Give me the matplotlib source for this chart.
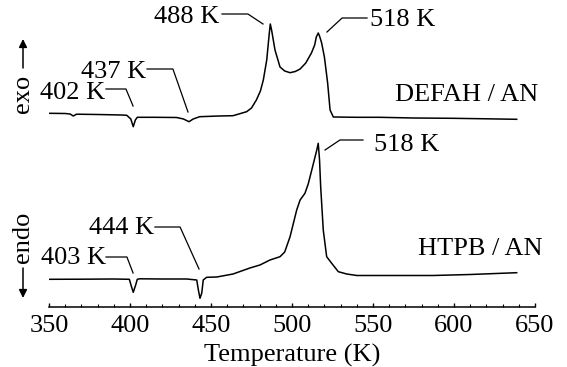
import matplotlib
matplotlib.use('Agg')
import matplotlib.pyplot as plt

# DSC traces (heat flow, arbitrary units, exo up)
T_defah = [350, 360, 363, 365, 367, 380, 395, 398, 400.5, 402, 403.3, 404.5,
           415, 428.8, 433, 436.4, 439, 443, 455, 463.6, 472, 475, 478, 480.5,
           482.3, 484.4, 486, 486.6, 487.4, 489.5, 492.6, 495.5, 498.8, 502,
           505, 508.5, 512, 514, 515, 516.2, 517, 518.3, 520, 522, 523.5,
           525.5, 540, 554, 575, 599, 620, 638.7]
py_defah = [113.3, 113.5, 114, 116, 114.2, 114.5, 115, 115.3, 119, 126.7, 120,
            117.3, 117.3, 117.5, 119, 121.7, 119, 116.7, 116, 115.7, 111.7, 108,
            100, 91, 80, 60, 33, 24, 30, 50, 67, 71, 72.7, 71.5, 69, 63, 53, 45,
            37, 33, 36, 43, 57, 83, 110, 117, 117.3, 117.3, 118, 118.3, 118.8,
            119.3]

T_htpb = [350, 370, 390, 399.6, 400.6, 402, 403.5, 404.5, 406, 420, 435, 441.2,
          442.2, 443.2, 444.3, 445.2, 447.3, 453.6, 463.6, 474, 480.2, 486.4,
          492.6, 495.5, 498.8, 502.9, 505, 508, 510, 512.2, 515.3, 516.2, 517,
          517.7, 519.3, 521.4, 524.5, 528.6, 533.8, 540, 560, 587, 610, 638.7]
py_htpb = [279.3, 279.2, 279, 279.3, 285, 292.3, 285, 279.3, 278.8, 279, 279,
           280, 290, 298.3, 293, 280, 277.3, 277, 274, 268, 265, 260, 256.7,
           252, 236.7, 210, 200, 193.3, 184, 170, 150, 143.3, 160, 186.7, 230,
           256.7, 263.3, 271.7, 274, 275.5, 275.5, 275.5, 274.5, 272.7]

# signal = height above the temperature axis
q_defah = [307 - v for v in py_defah]
q_htpb = [307 - v for v in py_htpb]

# peak labels: text, text anchor (T, q), alignment, leader polyline
peak_labels = ['488 K', '518 K', '437 K', '402 K', '518 K', '444 K', '403 K']
label_pos = [(455.3, 290), (548.3, 287), (410.3, 235), (385.0, 214),
             (550.8, 162), (415.2, 79), (385.0, 49)]
label_ha = ['right', 'left', 'right', 'right', 'left', 'right', 'right']
leaders = [
    ([456.8, 472.8, 482.1], [293, 293, 283]),
    ([546.3, 530.9, 521.6], [289, 289, 275]),
    ([410.5, 426.5, 435.8], [238, 238, 195]),
    ([385.2, 397.5, 401.9], [218, 218, 201]),
    ([543.8, 529.6, 520.4], [167, 167, 157]),
    ([415.4, 430.9, 442.6], [80, 80, 38]),
    ([385.2, 398.1, 401.9], [50, 50, 34]),
]

plt.rcParams['font.family'] = ['Liberation Serif', 'DejaVu Serif']
plt.rcParams['font.size'] = 19

fig = plt.figure(figsize=(5.67, 3.67), dpi=100)
ax = fig.add_axes([49 / 567, 60 / 367, 486 / 567, 307 / 367])

ax.plot(T_defah, q_defah, color='black', lw=1.1)
ax.plot(T_htpb, q_htpb, color='black', lw=1.1)

for lab, (x, y), ha, (lx, ly) in zip(peak_labels, label_pos, label_ha, leaders):
    ax.text(x, y, lab, ha=ha, va='center')
    ax.plot(lx, ly, color='black', lw=0.9)

ax.text(563.6, 212, 'DEFAH / AN', ha='left', va='center')
ax.text(577.8, 58, 'HTPB / AN', ha='left', va='center')

ax.set_xlim(350, 650)
ax.set_ylim(0, 307)
ax.set_xticks([350, 400, 450, 500, 550, 600, 650])
ax.set_xticks(range(350, 651, 10), minor=True)
ax.tick_params(axis='x', which='major', direction='in', length=3, width=1,
               pad=6, labelsize=19)
ax.tick_params(axis='x', which='minor', direction='in', length=2, width=0.8)
ax.set_yticks([])
for s in ['top', 'left', 'right']:
    ax.spines[s].set_visible(False)
ax.spines['bottom'].set_linewidth(1.1)
ax.set_xlabel('Temperature (K)', labelpad=5)

# exo / endo direction markers
fig.text(23 / 567, 1 - 94 / 367, 'exo', rotation=90, ha='center', va='center')
fig.text(23 / 567, 1 - 237 / 367, 'endo', rotation=90, ha='center', va='center')
fig.add_artist(plt.Annotation('', xy=(23 / 567, 1 - 39 / 367),
                              xytext=(23 / 567, 1 - 68 / 367),
                              xycoords='figure fraction',
                              arrowprops=dict(arrowstyle='-|>', color='black',
                                              lw=1.1, mutation_scale=12,
                                              shrinkA=0, shrinkB=0)))
fig.add_artist(plt.Annotation('', xy=(23 / 567, 1 - 298 / 367),
                              xytext=(23 / 567, 1 - 268 / 367),
                              xycoords='figure fraction',
                              arrowprops=dict(arrowstyle='-|>', color='black',
                                              lw=1.1, mutation_scale=12,
                                              shrinkA=0, shrinkB=0)))

fig.savefig('out.png', dpi=100)
